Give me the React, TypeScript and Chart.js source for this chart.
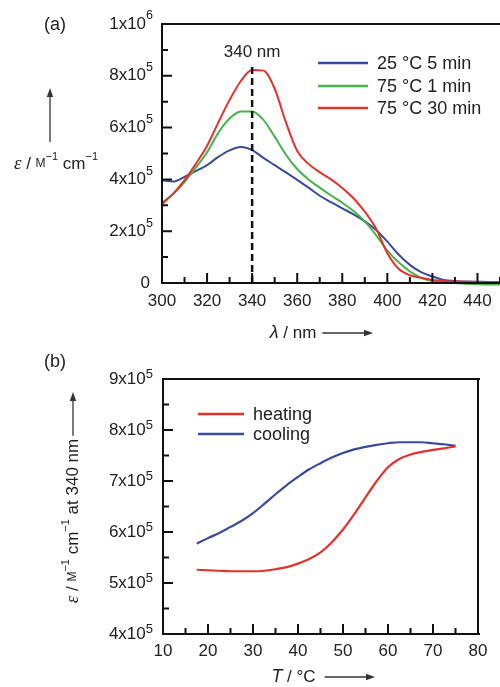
import { useEffect, useRef } from "react";
import { Chart, registerables } from "chart.js";
Chart.register(...registerables);

const SANS = '"Liberation Sans", Arial, Helvetica, sans-serif';
const SERIF = '"Liberation Serif", "Times New Roman", serif';
const INK = "#222";
const BLUE = "#3b4a9f";
const GREEN = "#45b24c";
const RED = "#e5312a";

// ---------- Panel (a) data ----------
const wavelengthNm = [300, 305, 310, 315, 320, 325, 330, 335, 340, 345, 350, 355, 360, 365, 370, 375, 380, 385, 390, 395, 400, 405, 410, 415, 420, 425, 430, 435, 440, 445, 450];
const eps25C5min = [3.97e5, 3.92e5, 4.1e5, 4.32e5, 4.55e5, 4.87e5, 5.12e5, 5.25e5, 5.13e5, 4.83e5, 4.55e5, 4.27e5, 3.98e5, 3.68e5, 3.37e5, 3.12e5, 2.88e5, 2.65e5, 2.38e5, 2.05e5, 1.6e5, 1.1e5, 0.7e5, 0.42e5, 0.25e5, 0.12e5, 0.08e5, 0.06e5, 0.05e5, 0.04e5, 0.04e5];
const eps75C1min = [3.1e5, 3.45e5, 3.9e5, 4.45e5, 5.05e5, 5.8e5, 6.35e5, 6.62e5, 6.62e5, 6.3e5, 5.65e5, 4.95e5, 4.4e5, 4.0e5, 3.68e5, 3.38e5, 3.1e5, 2.78e5, 2.38e5, 1.85e5, 1.25e5, 0.8e5, 0.45e5, 0.2e5, 0.08e5, 0.03e5, 0, -0.03e5, -0.05e5, -0.06e5, -0.06e5];
const eps75C30min = [3.05e5, 3.45e5, 3.97e5, 4.6e5, 5.3e5, 6.2e5, 7.07e5, 7.8e5, 8.22e5, 8.2e5, 7.5e5, 6.2e5, 5.1e5, 4.6e5, 4.28e5, 4.0e5, 3.67e5, 3.27e5, 2.75e5, 2.1e5, 1.15e5, 0.55e5, 0.3e5, 0.2e5, 0.12e5, 0.08e5, 0.06e5, 0.05e5, 0.04e5, 0.04e5, 0.04e5];
const aLegendLabels = ["25 °C 5 min", "75 °C 1 min", "75 °C 30 min"];
const peakMarkerNm = [340, 340];
const peakMarkerEps = [0, 8.35e5];
const peakLabel = "340 nm";
const aXMajorTicks = [300, 320, 340, 360, 380, 400, 420, 440];
const aXMinorTicks = [310, 330, 350, 370, 390, 410, 430, 450];
const aYMajorTicks = [0, 2e5, 4e5, 6e5, 8e5, 1e6];
const aYMinorTicks = [1e5, 3e5, 5e5, 7e5, 9e5];
const aYTickBase = ["0", "2x10", "4x10", "6x10", "8x10", "1x10"];
const aYTickExp = ["", "5", "5", "5", "5", "6"];

// ---------- Panel (b) data ----------
const temperatureC = [17.5, 20, 22.5, 25, 27.5, 30, 32.5, 35, 37.5, 40, 42.5, 45, 47.5, 50, 52.5, 55, 57.5, 60, 62.5, 65, 67.5, 70, 72.5, 75];
const epsHeating = [5.26e5, 5.25e5, 5.24e5, 5.23e5, 5.23e5, 5.23e5, 5.24e5, 5.27e5, 5.31e5, 5.38e5, 5.47e5, 5.6e5, 5.8e5, 6.05e5, 6.35e5, 6.68e5, 7.0e5, 7.27e5, 7.43e5, 7.52e5, 7.57e5, 7.61e5, 7.64e5, 7.68e5];
const epsCooling = [5.77e5, 5.88e5, 5.98e5, 6.1e5, 6.22e5, 6.37e5, 6.55e5, 6.74e5, 6.92e5, 7.08e5, 7.23e5, 7.35e5, 7.46e5, 7.55e5, 7.62e5, 7.67e5, 7.71e5, 7.74e5, 7.76e5, 7.76e5, 7.76e5, 7.74e5, 7.72e5, 7.69e5];
const bLegendLabels = ["heating", "cooling"];
const bXMajorTicks = [10, 20, 30, 40, 50, 60, 70, 80];
const bXMinorTicks = [15, 25, 35, 45, 55, 65, 75];
const bYMajorTicks = [4e5, 5e5, 6e5, 7e5, 8e5, 9e5];
const bYMinorTicks = [4.5e5, 5.5e5, 6.5e5, 7.5e5, 8.5e5];
const bYTickBase = ["4x10", "5x10", "6x10", "7x10", "8x10", "9x10"];
const bYTickExp = ["5", "5", "5", "5", "5", "5"];

type Run = { t: string; size: number; italic?: boolean; serif?: boolean; dy?: number };

function fontOf(r: Run) {
  return `${r.italic ? "italic " : ""}${r.size}px ${r.serif ? SERIF : SANS}`;
}
function runsWidth(ctx: CanvasRenderingContext2D, runs: Run[]) {
  let w = 0;
  for (const r of runs) {
    ctx.font = fontOf(r);
    w += ctx.measureText(r.t).width;
  }
  return w;
}
function drawRuns(ctx: CanvasRenderingContext2D, runs: Run[], x: number, y: number) {
  ctx.textAlign = "left";
  ctx.textBaseline = "middle";
  for (const r of runs) {
    ctx.font = fontOf(r);
    ctx.fillText(r.t, x, y + (r.dy || 0));
    x += ctx.measureText(r.t).width;
  }
  return x;
}
function arrow(ctx: CanvasRenderingContext2D, x1: number, y1: number, x2: number, y2: number) {
  const a = Math.atan2(y2 - y1, x2 - x1);
  ctx.save();
  ctx.strokeStyle = "#333";
  ctx.fillStyle = "#333";
  ctx.lineWidth = 1.3;
  ctx.beginPath();
  ctx.moveTo(x1, y1);
  ctx.lineTo(x2 - 6 * Math.cos(a), y2 - 6 * Math.sin(a));
  ctx.stroke();
  ctx.beginPath();
  ctx.moveTo(x2, y2);
  ctx.lineTo(x2 - 9 * Math.cos(a) + 3.2 * Math.sin(a), y2 - 9 * Math.sin(a) - 3.2 * Math.cos(a));
  ctx.lineTo(x2 - 9 * Math.cos(a) - 3.2 * Math.sin(a), y2 - 9 * Math.sin(a) + 3.2 * Math.cos(a));
  ctx.closePath();
  ctx.fill();
  ctx.restore();
}

function drawAxesTicks(
  chart: any,
  xMajor: number[], xMinor: number[], yMajor: number[], yMinor: number[],
  fullFrame: boolean
) {
  const ctx: CanvasRenderingContext2D = chart.ctx;
  const { left, top, right, bottom } = chart.chartArea;
  const xs = chart.scales.x;
  const ys = chart.scales.y;
  ctx.save();
  ctx.strokeStyle = "#111";
  ctx.lineWidth = 2;
  ctx.beginPath();
  ctx.moveTo(left, top);
  ctx.lineTo(right + 2, top);
  ctx.moveTo(left, top - 1);
  ctx.lineTo(left, bottom + 1);
  ctx.moveTo(left - 1, bottom);
  ctx.lineTo(right + 2, bottom);
  if (fullFrame) {
    ctx.moveTo(right, top - 1);
    ctx.lineTo(right, bottom + 1);
  }
  ctx.stroke();
  ctx.beginPath();
  for (const v of xMajor) {
    const p = xs.getPixelForValue(v);
    ctx.moveTo(p, bottom);
    ctx.lineTo(p, bottom - 10);
  }
  for (const v of xMinor) {
    const p = xs.getPixelForValue(v);
    ctx.moveTo(p, bottom);
    ctx.lineTo(p, bottom - 6);
  }
  for (const v of yMajor) {
    const p = ys.getPixelForValue(v);
    ctx.moveTo(left, p);
    ctx.lineTo(left + 10, p);
  }
  for (const v of yMinor) {
    const p = ys.getPixelForValue(v);
    ctx.moveTo(left, p);
    ctx.lineTo(left + 6, p);
  }
  ctx.stroke();
  ctx.restore();
}

function drawTickLabels(
  chart: any, xLabels: number[], yVals: number[], yBase: string[], yExp: string[],
  xLabelDy: number, yRightGap: number, supDy: number, supSize: number
) {
  const ctx: CanvasRenderingContext2D = chart.ctx;
  const { left, bottom } = chart.chartArea;
  const xs = chart.scales.x;
  const ys = chart.scales.y;
  ctx.save();
  ctx.fillStyle = INK;
  ctx.font = `17px ${SANS}`;
  ctx.textAlign = "center";
  ctx.textBaseline = "middle";
  for (const v of xLabels) {
    ctx.fillText(String(v), xs.getPixelForValue(v), bottom + xLabelDy);
  }
  yVals.forEach((v, i) => {
    const runs: Run[] = [{ t: yBase[i], size: 17 }];
    if (yExp[i]) runs.push({ t: yExp[i], size: supSize, dy: supDy });
    const w = runsWidth(ctx, runs);
    const xr = yExp[i] ? left - yRightGap : left - yRightGap - 3;
    drawRuns(ctx, runs, xr - w, ys.getPixelForValue(v));
  });
  ctx.restore();
}

const panelAPlugin = {
  id: "panelA",
  afterDraw(chart: any) {
    const ctx: CanvasRenderingContext2D = chart.ctx;
    const xs = chart.scales.x;
    drawAxesTicks(chart, aXMajorTicks, aXMinorTicks, aYMajorTicks, aYMinorTicks, false);
    drawTickLabels(chart, aXMajorTicks, aYMajorTicks, aYTickBase, aYTickExp, 18.5, 9, -8, 12.5);
    ctx.save();
    ctx.fillStyle = INK;
    // panel tag
    ctx.font = `18px ${SANS}`;
    ctx.textAlign = "left";
    ctx.textBaseline = "middle";
    ctx.fillText("(a)", 44, 25);
    // peak label
    ctx.font = `17px ${SANS}`;
    ctx.textAlign = "center";
    ctx.fillText(peakLabel, xs.getPixelForValue(peakMarkerNm[0]), 52);
    // legend
    const colors = [BLUE, GREEN, RED];
    const rows = [63, 86, 108];
    aLegendLabels.forEach((lab, i) => {
      ctx.strokeStyle = colors[i];
      ctx.lineWidth = 2.5;
      ctx.beginPath();
      ctx.moveTo(318, rows[i]);
      ctx.lineTo(368, rows[i]);
      ctx.stroke();
      ctx.font = `18px ${SANS}`;
      ctx.textAlign = "left";
      ctx.fillText(lab, 377, rows[i] + 1);
    });
    // y title (horizontal) with up arrow
    const yTitle: Run[] = [
      { t: "ε", size: 19, italic: true, serif: true },
      { t: " / ", size: 17 },
      { t: "M", size: 12 },
      { t: "−1", size: 11, dy: -7 },
      { t: " cm", size: 17 },
      { t: "−1", size: 11, dy: -7 },
    ];
    const w = runsWidth(ctx, yTitle);
    drawRuns(ctx, yTitle, 56 - w / 2, 164);
    arrow(ctx, 50, 142, 50, 88);
    // x title
    const xTitle: Run[] = [
      { t: "λ", size: 18, italic: true },
      { t: " / nm", size: 17 },
    ];
    const xw = runsWidth(ctx, xTitle);
    const end = drawRuns(ctx, xTitle, 293 - xw / 2, 333);
    arrow(ctx, end + 6, 333, 373, 333);
    ctx.restore();
  },
};

const panelBPlugin = {
  id: "panelB",
  afterDraw(chart: any) {
    const ctx: CanvasRenderingContext2D = chart.ctx;
    drawAxesTicks(chart, bXMajorTicks, bXMinorTicks, bYMajorTicks, bYMinorTicks, true);
    drawTickLabels(chart, bXMajorTicks, bYMajorTicks, bYTickBase, bYTickExp, 17.5, 10, -5, 13);
    ctx.save();
    ctx.fillStyle = INK;
    ctx.font = `18px ${SANS}`;
    ctx.textAlign = "left";
    ctx.textBaseline = "middle";
    ctx.fillText("(b)", 44, 32);
    // legend
    const colors = [RED, BLUE];
    const rows = [84, 104];
    bLegendLabels.forEach((lab, i) => {
      ctx.strokeStyle = colors[i];
      ctx.lineWidth = 2.5;
      ctx.beginPath();
      ctx.moveTo(198, rows[i]);
      ctx.lineTo(244, rows[i]);
      ctx.stroke();
      ctx.font = `18px ${SANS}`;
      ctx.textAlign = "left";
      ctx.fillText(lab, 253, rows[i] + 1);
    });
    // y title rotated
    const yTitle: Run[] = [
      { t: "ε", size: 19, italic: true, serif: true },
      { t: " / ", size: 17 },
      { t: "M", size: 12 },
      { t: "−1", size: 11, dy: -7 },
      { t: " cm", size: 17 },
      { t: "−1", size: 11, dy: -7 },
      { t: " at 340 nm", size: 17 },
    ];
    const w = runsWidth(ctx, yTitle);
    ctx.save();
    ctx.translate(73, 191);
    ctx.rotate(-Math.PI / 2);
    const end = drawRuns(ctx, yTitle, -w / 2, 0);
    arrow(ctx, end + 3, 0, 129, 0);
    ctx.restore();
    // x title
    const xTitle: Run[] = [
      { t: "T", size: 18, italic: true },
      { t: " / °C", size: 17 },
    ];
    const xw = runsWidth(ctx, xTitle);
    const xend = drawRuns(ctx, xTitle, 293.5 - xw / 2, 347);
    arrow(ctx, xend + 9, 347, 375, 347);
    ctx.restore();
  },
};

const hiddenAxis = (min: number, max: number) => ({
  type: "linear" as const,
  min,
  max,
  grid: { display: false, drawTicks: false },
  border: { display: false },
  ticks: { display: false },
});

const lineDs = (label: string, xs: number[], ys: number[], color: string, width = 2) => ({
  label,
  data: xs.map((x, i) => ({ x, y: ys[i] })),
  borderColor: color,
  backgroundColor: color,
  borderWidth: width,
  pointRadius: 0,
  cubicInterpolationMode: "monotone" as const,
  fill: false,
  clip: 4,
});

export default function App() {
  const refA = useRef<HTMLCanvasElement>(null);
  const refB = useRef<HTMLCanvasElement>(null);

  useEffect(() => {
    document.body.style.margin = "0";
    const chartA = new Chart(refA.current as HTMLCanvasElement, {
      type: "line",
      data: {
        datasets: [
          {
            label: peakLabel,
            data: peakMarkerNm.map((x, i) => ({ x, y: peakMarkerEps[i] })),
            borderColor: "#111",
            borderWidth: 2.5,
            borderDash: [7, 4],
            pointRadius: 0,
            fill: false,
          },
          lineDs(aLegendLabels[2], wavelengthNm, eps75C30min, RED),
          lineDs(aLegendLabels[1], wavelengthNm, eps75C1min, GREEN),
          lineDs(aLegendLabels[0], wavelengthNm, eps25C5min, BLUE),
        ] as any,
      },
      options: {
        animation: false,
        responsive: false,
        devicePixelRatio: 1,
        events: [],
        layout: { padding: { left: 162, top: 24, right: 0, bottom: 62 } },
        plugins: { legend: { display: false }, tooltip: { enabled: false } },
        scales: { x: hiddenAxis(300, 450), y: hiddenAxis(0, 1e6) },
      } as any,
      plugins: [panelAPlugin],
    });
    const chartB = new Chart(refB.current as HTMLCanvasElement, {
      type: "line",
      data: {
        datasets: [
          lineDs(bLegendLabels[0], temperatureC, epsHeating, RED, 2.2),
          lineDs(bLegendLabels[1], temperatureC, epsCooling, BLUE, 2.2),
        ] as any,
      },
      options: {
        animation: false,
        responsive: false,
        devicePixelRatio: 1,
        events: [],
        layout: { padding: { left: 163, top: 49, right: 22, bottom: 53 } },
        plugins: { legend: { display: false }, tooltip: { enabled: false } },
        scales: { x: hiddenAxis(10, 80), y: hiddenAxis(4e5, 9e5) },
      } as any,
      plugins: [panelBPlugin],
    });
    return () => {
      chartA.destroy();
      chartB.destroy();
    };
  }, []);

  return (
    <div style={{ position: "absolute", left: 0, top: 0, width: 500, height: 687, background: "#fff", overflow: "hidden" }}>
      <canvas ref={refB} width={500} height={357} style={{ position: "absolute", left: 0, top: 330, width: 500, height: 357 }} />
      <canvas ref={refA} width={500} height={345} style={{ position: "absolute", left: 0, top: 0, width: 500, height: 345 }} />
    </div>
  );
}
